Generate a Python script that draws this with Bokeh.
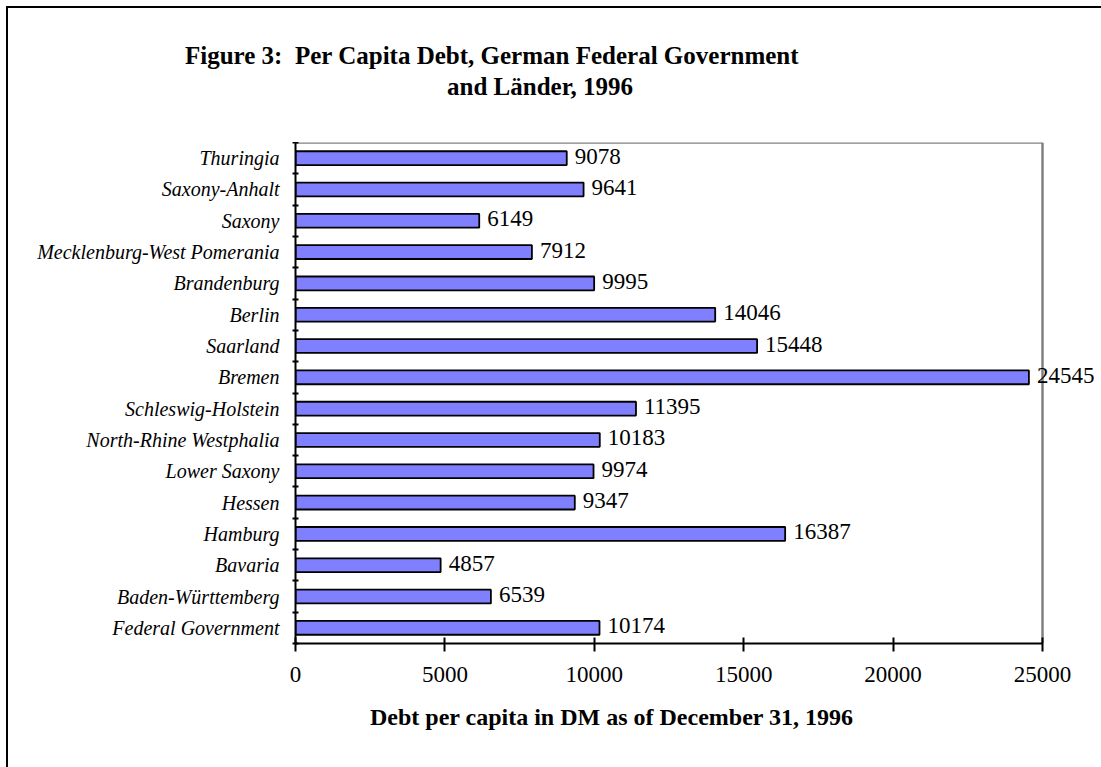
from bokeh.plotting import figure
from bokeh.layouts import column
from bokeh.models import ColumnDataSource, Range1d, FixedTicker, LabelSet, Div
from bokeh.embed import file_html
from bokeh.resources import INLINE

# ---- data (bottom to top) ----
regions = ["Federal Government", "Baden-Württemberg", "Bavaria", "Hamburg", "Hessen",
           "Lower Saxony", "North-Rhine Westphalia", "Schleswig-Holstein", "Bremen",
           "Saarland", "Berlin", "Brandenburg", "Mecklenburg-West Pomerania", "Saxony",
           "Saxony-Anhalt", "Thuringia"]
debt = [10174, 6539, 4857, 16387, 9347, 9974, 10183, 11395, 24545, 15448, 14046,
        9995, 7912, 6149, 9641, 9078]
x_ticks = [0, 5000, 10000, 15000, 20000, 25000]
title_lines = ["Figure 3:  Per Capita Debt, German Federal Government", "and Länder, 1996"]
x_title = "Debt per capita in DM as of December 31, 1996"

SERIF = "Liberation Serif"
n = len(regions)
pos = [i + 0.5 for i in range(n)]
x_axis_max = x_ticks[-1]

W = 1093               # canvas width (page is offset by the 8px outer border)
TOP_H = 134            # title strip height
FRAME_H = 501
BOTTOM_PANEL = 56      # room for the tick labels under the frame
BOT_H = 759 - TOP_H - FRAME_H - BOTTOM_PANEL
LEFT = 287
FRAME_W = W - LEFT     # frame runs to the right edge so the Bremen label fits
AXIS_PX = 747          # pixels from 0 to 25000
x_end = x_axis_max * FRAME_W / AXIS_PX


def text_block(txt, left, top, size):
    return (f'<div style="position:absolute;left:{left}px;top:{top}px;white-space:pre;'
            f'font-family:\'{SERIF}\';font-weight:bold;font-size:{size}px;line-height:1;'
            f'color:black;">{txt}</div>')


# ---- title strip ----
top = Div(text=('<div style="position:relative;width:%dpx;height:%dpx;">' % (W, TOP_H)
                + text_block(title_lines[0], 177, 35, 25)
                + text_block(title_lines[1], 439, 66, 25) + '</div>'),
          width=W, height=TOP_H, styles={"margin": "0", "padding": "0"})

# ---- main chart ----
src = ColumnDataSource(dict(y=pos, v=debt, lab=[str(d) for d in debt]))

p = figure(width=W, height=FRAME_H + BOTTOM_PANEL, frame_width=FRAME_W, frame_height=FRAME_H,
           min_border_left=LEFT, min_border_right=0, min_border_top=0,
           min_border_bottom=BOTTOM_PANEL,
           x_range=Range1d(0, x_end), y_range=Range1d(0, n),
           output_backend="svg", toolbar_location=None, tools="")
p.background_fill_color = "white"
p.border_fill_color = "white"
p.outline_line_color = None
p.xgrid.visible = False
p.ygrid.visible = False

# grey plot-area border on top and right
p.segment(x0=[0, x_axis_max], y0=[n, 0], x1=[x_axis_max, x_axis_max], y1=[n, n],
          line_color="#808080", line_width=2.5)

p.hbar(y="y", right="v", left=0, height=0.44, source=src,
       fill_color="#8080FF", line_color="black", line_width=1.8)

xa = p.xaxis[0]
xa.ticker = FixedTicker(ticks=x_ticks)
xa.bounds = (0, x_axis_max)
xa.axis_line_color = "black"
xa.axis_line_width = 2
xa.major_tick_line_color = "black"
xa.major_tick_line_width = 2
xa.major_tick_in = 6
xa.major_tick_out = 8
xa.minor_tick_line_color = None
xa.major_label_text_font = SERIF
xa.major_label_text_font_size = "23px"
xa.major_label_text_color = "black"
xa.major_label_standoff = 15

ya = p.yaxis[0]
ya.ticker = FixedTicker(ticks=pos, minor_ticks=list(range(n + 1)))
ya.major_label_overrides = {pos[i]: regions[i] for i in range(n)}
ya.axis_line_color = "black"
ya.axis_line_width = 2
ya.major_tick_in = 0
ya.major_tick_out = 0
ya.minor_tick_line_color = "black"
ya.minor_tick_line_width = 2
ya.minor_tick_in = 3
ya.minor_tick_out = 3
ya.major_label_text_font = SERIF
ya.major_label_text_font_style = "italic"
ya.major_label_text_font_size = "20px"
ya.major_label_text_color = "black"
ya.major_label_standoff = 13

p.add_layout(LabelSet(x="v", y="y", text="lab", source=src, x_offset=8, y_offset=2,
                      text_baseline="middle", text_align="left",
                      text_font=SERIF, text_font_size="23px", text_color="black"))

# ---- x-axis title strip ----
bot = Div(text=('<div style="position:relative;width:%dpx;height:%dpx;">' % (W, BOT_H)
                + text_block(x_title, 362, 6, 24) + '</div>'),
          width=W, height=BOT_H, styles={"margin": "0", "padding": "0"})

page = column(top, p, bot, spacing=0,
              styles={"margin-left": "8px", "margin-top": "8px",
                      "box-shadow": "-2px 0 0 0 black, 0 -2px 0 0 black, -2px -2px 0 0 black"})

open("out.html", "w").write(file_html(page, INLINE))
